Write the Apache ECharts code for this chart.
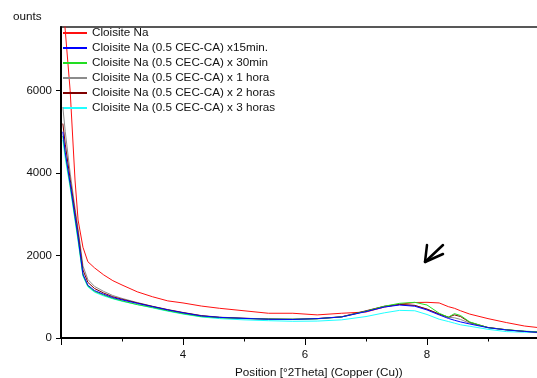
<!DOCTYPE html>
<html><head><meta charset="utf-8">
<script src="https://cdn.jsdelivr.net/npm/echarts@6/dist/echarts.min.js"></script>
<style>html,body{margin:0;padding:0;background:#fff}#c{width:537px;height:378px}</style>
</head><body><div id="c"></div>
<script>
const xs = [2.03, 2.07, 2.15, 2.23, 2.28, 2.36, 2.44, 2.55, 2.7, 2.85, 3.0, 3.25, 3.5, 3.75, 4.0, 4.3, 4.6, 5.0, 5.4, 5.8, 6.2, 6.6, 7.0, 7.3, 7.55, 7.8, 8.0, 8.2, 8.35, 8.45, 8.55, 8.7, 9.0, 9.3, 9.6, 9.9];
const seriesNames = ["Cloisite Na", "Cloisite Na (0.5 CEC-CA) x15min.", "Cloisite Na (0.5 CEC-CA) x 30min", "Cloisite Na (0.5 CEC-CA) x 1 hora", "Cloisite Na (0.5 CEC-CA) x 2 horas", "Cloisite Na (0.5 CEC-CA) x 3 horas"];
const redNa   = [8200, 7450, 6000, 3830, 2860, 2200, 1850, 1700, 1530, 1390, 1285, 1120, 1000, 900, 850, 775, 720, 660, 600, 600, 560, 600, 630, 750, 820, 860, 865, 850, 760, 720, 660, 580, 470, 375, 290, 240];
const blue15  = [5000, 4500, 3750, 2950, 2450, 1550, 1280, 1150, 1060, 980, 925, 840, 760, 680, 610, 535, 500, 475, 455, 450, 470, 510, 640, 750, 800, 770, 680, 560, 475, 430, 390, 340, 250, 195, 160, 130];
const green30 = [4900, 4450, 3700, 2900, 2400, 1520, 1260, 1130, 1040, 960, 900, 810, 740, 660, 590, 520, 490, 470, 460, 455, 465, 510, 650, 770, 840, 865, 800, 600, 505, 590, 545, 390, 250, 200, 165, 145];
const gray1h  = [5600, 5000, 4000, 3150, 2650, 1750, 1420, 1250, 1130, 1030, 960, 860, 770, 690, 620, 545, 505, 480, 460, 455, 470, 510, 650, 760, 810, 790, 700, 580, 500, 490, 450, 360, 255, 200, 160, 135];
const brown2h = [5200, 4700, 3850, 3050, 2550, 1650, 1350, 1200, 1090, 1000, 940, 850, 765, 685, 615, 540, 500, 478, 458, 452, 470, 515, 660, 770, 815, 790, 700, 580, 505, 560, 520, 380, 255, 200, 160, 135];
const cyan3h  = [4800, 4350, 3650, 2850, 2350, 1500, 1240, 1110, 1020, 950, 890, 810, 730, 650, 580, 510, 470, 440, 420, 405, 410, 440, 520, 610, 670, 660, 570, 455, 400, 360, 320, 285, 210, 155, 140, 125];
const yTicks = [0, 2000, 4000, 6000];
const xTickLabels = [4, 6, 8];

function pairs(v){ return xs.map((x,i)=>[x, v[i]]); }
function mk(name, data, color, z){
  return {name, type:'line', data: pairs(data), symbol:'none', showSymbol:false, smooth:false, z,
    lineStyle:{color, width:1}, itemStyle:{color}, clip:true, animation:false};
}
const chart = echarts.init(document.getElementById('c'), null, {renderer:'canvas'});
const font = "Arial, 'Liberation Sans', sans-serif";
chart.setOption({
  animation:false,
  backgroundColor:'#fff',
  grid:{left:61, top:27, width:488, height:311, outerBoundsMode:'none', containLabel:false,
    show:true, borderColor:'#222', borderWidth:1.5, backgroundColor:'transparent'},
  legend:{
    data: seriesNames, orient:'vertical', left:63, top:26, padding:0,
    icon:'rect', itemWidth:24, itemHeight:2, itemGap:1,
    textStyle:{fontFamily:font, fontSize:11.7, color:'#111', lineHeight:14}
  },
  xAxis:{type:'value', min:2, max:10, interval:2,
    axisLine:{show:true, onZero:false, lineStyle:{color:'#000', width:2}},
    axisTick:{show:true, length:7, lineStyle:{color:'#000', width:1}},
    minorTick:{show:true, splitNumber:2, length:3.5, lineStyle:{color:'#000', width:1}},
    splitLine:{show:false},
    axisLabel:{showMinLabel:false, margin:11, fontFamily:font, fontSize:11.5, color:'#111',
      formatter: v => xTickLabels.includes(v) ? String(v) : ''}
  },
  yAxis:{type:'value', min:0, max:7540, interval:2000,
    axisLine:{show:true, lineStyle:{color:'#000', width:2}},
    axisTick:{show:true, length:5, customValues: yTicks, lineStyle:{color:'#000', width:1}},
    splitLine:{show:false},
    axisLabel:{customValues: yTicks, margin:9, fontFamily:font, fontSize:11.5, color:'#111',
      formatter: v => String(v)}
  },
  graphic:[
    {type:'text', left:13, top:11, style:{text:'ounts', font:'11.7px '+font, fill:'#111'}},
    {type:'text', left:235, top:367, style:{text:'Position [°2Theta] (Copper (Cu))', font:'11.7px '+font, fill:'#111'}},
    {type:'polyline', shape:{points:[[443,245],[425,262]]}, style:{stroke:'#000', lineWidth:2.5, lineCap:'round'}},
    {type:'polyline', shape:{points:[[427,245],[425,262],[443,254]]}, style:{stroke:'#000', lineWidth:2.5, lineCap:'round', lineJoin:'round', fill:null}}
  ],
  series:[
    mk(seriesNames[0], redNa, '#ff1010', 2),
    mk(seriesNames[5], cyan3h, '#20ffff', 3),
    mk(seriesNames[3], gray1h, '#8c8c8c', 4),
    mk(seriesNames[4], brown2h, '#800000', 5),
    mk(seriesNames[2], green30, '#22dd22', 6),
    mk(seriesNames[1], blue15, '#0000ff', 7)
  ]
});
</script></body></html>
